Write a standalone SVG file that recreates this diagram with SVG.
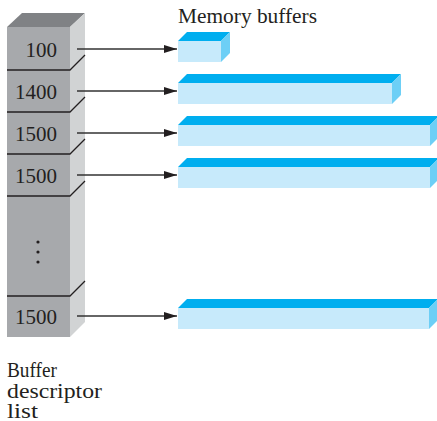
<svg xmlns="http://www.w3.org/2000/svg" width="437" height="421" viewBox="0 0 437 421">
<style>
.t{font-family:"Liberation Serif","Times New Roman",serif;fill:#231f20}
.num{font-size:21px;text-anchor:end}
.lbl{font-size:20px}
.gtop{fill:#808285}.gfront{fill:#a7a9ac}.gside{fill:#d1d3d4}
.div{stroke:#231f20;stroke-width:1.3;fill:none}
.btop{fill:#00aeef}.bfront{fill:#c7eafb}.bside{fill:#6dcff6}
.arr{stroke:#333;stroke-width:1.3;fill:none;marker-end:url(#ah)}
</style>
<defs>
<marker id="ah" viewBox="0 0 13 8" refX="13" refY="4" markerWidth="13" markerHeight="8" markerUnits="userSpaceOnUse" orient="auto">
<path d="M0,0 L13,4 L0,8 Z" fill="#231f20"/>
</marker>
</defs>
<rect width="437" height="421" fill="#fff"/>
<g id="descriptor-list">
<polygon class="gtop" points="7,27 22,13 85,13 70,27"/>
<polygon class="gside" points="70,27 85,13 85,322 70,337"/>
<rect class="gfront" x="7" y="27" width="63" height="310"/>
<path class="div" d="M7,70 H70 L85,55 M7,112 H70 L85,97 M7,154 H70 L85,139 M7,196 H70 L85,181 M7,296 H70 L85,281"/>
<text class="t num" x="57" y="57">100</text>
<text class="t num" x="57" y="99">1400</text>
<text class="t num" x="57" y="141">1500</text>
<text class="t num" x="57" y="183">1500</text>
<circle cx="38" cy="242" r="1.6" fill="#231f20"/>
<circle cx="38" cy="252" r="1.6" fill="#231f20"/>
<circle cx="38" cy="262" r="1.6" fill="#231f20"/>
<text class="t num" x="57" y="324">1500</text>
</g>
<g id="buffer1">
<polygon class="btop" points="178,41 187,32 230,32 221,41"/>
<polygon class="bside" points="221,41 230,32 230,53 221,62"/>
<rect class="bfront" x="178" y="41" width="43" height="21"/>
</g>
<g id="buffer2">
<polygon class="btop" points="178,83 187,74 401,74 392,83"/>
<polygon class="bside" points="392,83 401,74 401,95 392,104"/>
<rect class="bfront" x="178" y="83" width="214" height="21"/>
</g>
<g id="buffer3">
<polygon class="btop" points="178,125 187,116 439,116 430,125"/>
<polygon class="bside" points="430,125 439,116 439,137 430,146"/>
<rect class="bfront" x="178" y="125" width="252" height="21"/>
</g>
<g id="buffer4">
<polygon class="btop" points="178,167 187,158 439,158 430,167"/>
<polygon class="bside" points="430,167 439,158 439,179 430,188"/>
<rect class="bfront" x="178" y="167" width="252" height="21"/>
</g>
<g id="buffer5">
<polygon class="btop" points="178,308 187,299 438,299 429,308"/>
<polygon class="bside" points="429,308 438,299 438,320 429,329"/>
<rect class="bfront" x="178" y="308" width="251" height="21"/>
</g>
<g id="connectors">
<line class="arr" x1="77" y1="49" x2="177" y2="49"/>
<line class="arr" x1="77" y1="91" x2="177" y2="91"/>
<line class="arr" x1="77" y1="133" x2="177" y2="133"/>
<line class="arr" x1="77" y1="175" x2="177" y2="175"/>
<line class="arr" x1="77" y1="316" x2="177" y2="316"/>
</g>
<g id="labels">
<text class="t lbl" x="178" y="23" textLength="139" lengthAdjust="spacingAndGlyphs">Memory buffers</text>
<text class="t lbl" x="7" y="377" textLength="50" lengthAdjust="spacingAndGlyphs">Buffer</text>
<text class="t lbl" x="7" y="398" textLength="95" lengthAdjust="spacingAndGlyphs">descriptor</text>
<text class="t lbl" x="7" y="418" textLength="31" lengthAdjust="spacingAndGlyphs">list</text>
</g>
</svg>
